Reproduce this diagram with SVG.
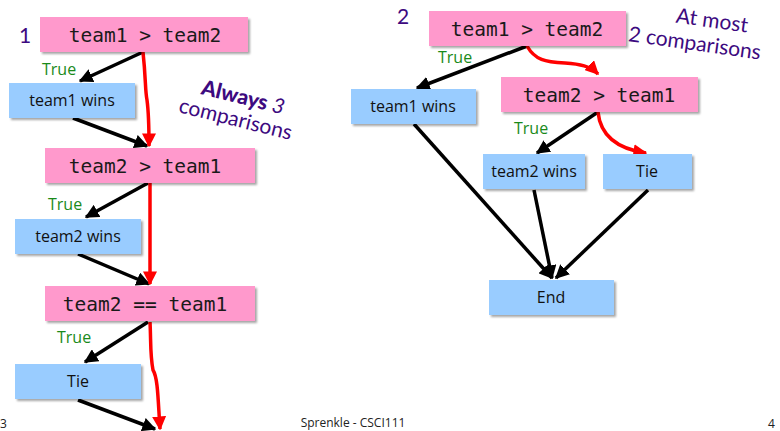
<svg xmlns="http://www.w3.org/2000/svg" width="780" height="431" viewBox="0 0 780 431">
<defs>
<filter id="sh" x="-10%" y="-10%" width="130%" height="140%">
<feDropShadow dx="2" dy="2" stdDeviation="1.2" flood-color="#000" flood-opacity="0.35"/>
</filter>
<marker id="ab" viewBox="0 0 10 10" refX="9" refY="5" markerWidth="4" markerHeight="4" orient="auto" markerUnits="strokeWidth">
<path d="M0,0 L10,5 L0,10 z" fill="#000"/>
</marker>
<marker id="ar" viewBox="0 0 10 10" refX="9" refY="5" markerWidth="4" markerHeight="4" orient="auto" markerUnits="strokeWidth">
<path d="M0,0 L10,5 L0,10 z" fill="#f00"/>
</marker>
</defs>
<style>
.pk{fill:#ff99cc;filter:url(#sh)}
.bl{fill:#99ccff;filter:url(#sh)}
.mono{font-family:"DejaVu Sans Mono","Liberation Mono",monospace;font-size:19.5px;fill:#1a1a1a;text-anchor:middle}
.lab{font-family:"Open Sans","DejaVu Sans",sans-serif;font-size:16px;fill:#111;text-anchor:middle}
.tr{font-family:"Open Sans","DejaVu Sans",sans-serif;font-size:16px;fill:#1a8a1a}
.pu{font-family:"Lato","Open Sans",sans-serif;fill:#3d0a80}
.k{fill:none;stroke:#000;stroke-width:3.5;marker-end:url(#ab)}
.r{fill:none;stroke:#f00;stroke-width:3.5;marker-end:url(#ar)}
.ft{font-family:"Open Sans","DejaVu Sans",sans-serif;font-size:12px;fill:#222}
</style>

<g id="connectors">
<path class="k" d="M143,52 L80,81"/>
<path class="k" d="M73,118 L147,146"/>
<path class="k" d="M148,183 L86,217"/>
<path class="k" d="M78,254 L149,284"/>
<path class="k" d="M148,322 L85,362"/>
<path class="k" d="M78,400 L155,429"/>
<path class="r" d="M143,52 C146,80 145,90 147,100 C149,115 149,130 149,146"/>
<path class="r" d="M150,183 L150,284"/>
<path class="r" d="M150,322 C151,340 150,355 153,370 C158,378 158,400 160,429"/>
<path class="k" d="M527,46 L417,88"/>
<path class="k" d="M414,124 L552,278"/>
<path class="k" d="M534,190 L552,278"/>
<path class="k" d="M648,190 L556,278"/>
<path class="k" d="M598,112 L537,153"/>
<path class="r" d="M527,46 C535,60 545,62 565,63 C580,64 590,66 598,74"/>
<path class="r" d="M598,112 C600,132 612,148 646,153"/>
</g>

<g id="left-1-label"><text class="pu" x="19" y="43" font-size="21">1</text></g>
<g id="n-l1"><rect class="pk" x="40" y="17" width="208" height="35"/><text class="mono" x="145" y="42">team1 &gt; team2</text></g>
<g id="t-l1"><text class="tr" x="42" y="75">True</text></g>
<g id="n-l2"><rect class="bl" x="9" y="83" width="126" height="35"/><text class="lab" x="72" y="106">team1 wins</text></g>
<g id="n-l3"><rect class="pk" x="45" y="148" width="210" height="35"/><text class="mono" x="145" y="173">team2 &gt; team1</text></g>
<g id="t-l2"><text class="tr" x="48" y="210">True</text></g>
<g id="n-l4"><rect class="bl" x="15" y="219" width="126" height="35"/><text class="lab" x="78" y="242">team2 wins</text></g>
<g id="n-l5"><rect class="pk" x="45" y="286" width="210" height="35"/><text class="mono" x="145" y="311">team2 == team1</text></g>
<g id="t-l3"><text class="tr" x="57" y="343">True</text></g>
<g id="n-l6"><rect class="bl" x="15" y="364" width="126" height="35"/><text class="lab" x="78" y="387">Tie</text></g>
<g id="always" transform="rotate(14 240 110)">
<text class="pu" x="240" y="104" font-size="21" font-weight="900" text-anchor="middle">Always <tspan font-weight="400" font-style="italic">3</tspan></text>
<text class="pu" x="238" y="127" font-size="21" text-anchor="middle">comparisons</text>
</g>

<g id="right-2-label"><text class="pu" x="397" y="24" font-size="21">2</text></g>
<g id="n-r1"><rect class="pk" x="429" y="11" width="197" height="35"/><text class="mono" x="527" y="36">team1 &gt; team2</text></g>
<g id="atmost" transform="rotate(8 700 35)">
<text class="pu" x="710" y="26" font-size="21" text-anchor="middle">At most</text>
<text class="pu" x="696" y="51" font-size="21" text-anchor="middle">2 comparisons</text>
</g>
<g id="t-r1"><text class="tr" x="438" y="63">True</text></g>
<g id="n-r2"><rect class="bl" x="351" y="89" width="125" height="35"/><text class="lab" x="413" y="112">team1 wins</text></g>
<g id="n-r3"><rect class="pk" x="501" y="77" width="197" height="35"/><text class="mono" x="599" y="102">team2 &gt; team1</text></g>
<g id="t-r2"><text class="tr" x="514" y="134">True</text></g>
<g id="n-r4"><rect class="bl" x="483" y="154" width="102" height="35"/><text class="lab" x="534" y="177">team2 wins</text></g>
<g id="n-r5"><rect class="bl" x="603" y="154" width="89" height="35"/><text class="lab" x="647" y="177">Tie</text></g>
<g id="n-r6"><rect class="bl" x="489" y="280" width="125" height="35"/><text class="lab" x="551" y="303">End</text></g>

<g id="footer">
<text class="ft" x="0" y="428">3</text>
<text class="ft" x="353" y="427" text-anchor="middle">Sprenkle - CSCI111</text>
<text class="ft" x="768" y="428" font-size="9">4</text>
</g>
</svg>
